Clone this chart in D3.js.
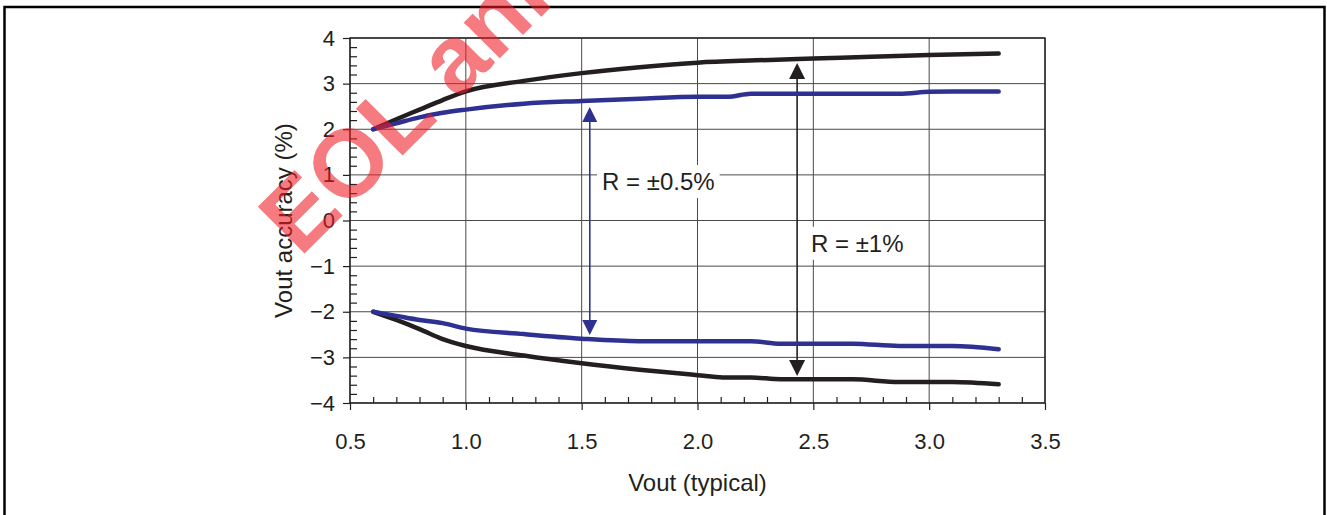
<!DOCTYPE html>
<html>
<head>
<meta charset="utf-8">
<script src="https://cdn.jsdelivr.net/npm/d3@7"></script>
<style>
body { margin: 0; background: #fff; }
svg { display: block; }
text { font-family: "Liberation Sans", Arial, sans-serif; fill: #231f20; }
</style>
</head>
<body>
<div id="chart"></div>
<script>
// data
var xTicks = [0.5, 1.0, 1.5, 2.0, 2.5, 3.0, 3.5];
var yTicks = [-4, -3, -2, -1, 0, 1, 2, 3, 4];

var blackUpperX = [0.6, 0.7, 0.8, 0.9, 1.0, 1.25, 1.5, 1.75, 2.0, 2.25, 2.5, 2.75, 3.0, 3.3];
var blackUpperY = [2.0, 2.22, 2.43, 2.64, 2.83, 3.06, 3.23, 3.36, 3.46, 3.51, 3.55, 3.59, 3.63, 3.66];

var blueUpperX = [0.6, 0.7, 0.8, 0.9, 1.0, 1.25, 1.5, 1.75, 2.0, 2.13, 2.23, 2.87, 3.0, 3.1, 3.3];
var blueUpperY = [2.0, 2.13, 2.26, 2.36, 2.43, 2.56, 2.62, 2.67, 2.71, 2.71, 2.78, 2.78, 2.82, 2.83, 2.83];

var blueLowerX = [0.6, 0.7, 0.8, 0.9, 1.0, 1.25, 1.5, 1.75, 2.23, 2.36, 2.67, 2.87, 3.1, 3.3];
var blueLowerY = [-2.0, -2.09, -2.18, -2.25, -2.37, -2.49, -2.59, -2.645, -2.645, -2.7, -2.7, -2.75, -2.75, -2.82];

var blackLowerX = [0.6, 0.7, 0.8, 0.9, 1.0, 1.25, 1.5, 1.75, 2.0, 2.11, 2.23, 2.36, 2.67, 2.87, 3.1, 3.3];
var blackLowerY = [-2.0, -2.18, -2.38, -2.6, -2.75, -2.96, -3.13, -3.27, -3.39, -3.44, -3.44, -3.48, -3.48, -3.54, -3.54, -3.59];

// range arrows: x, top tip, bottom tip
var arrowX = [1.535, 2.43];
var arrowTop = [2.49, 3.45];
var arrowBottom = [-2.51, -3.41];
var labelText = ['R = \u00b10.5%', 'R = \u00b11%'];
var labelX = [1.588, 2.49];
var labelY = [0.667, -0.686];

var svgWidth = 1327,
    svgHeight = 515;

var plot = { left: 350, top: 38, right: 1045, bottom: 403 };

var svg = d3.select('#chart')
    .append('svg')
    .attr('width', svgWidth)
    .attr('height', svgHeight);

var x = d3.scaleLinear().domain([0.5, 3.5]).range([plot.left, plot.right]);
var y = d3.scaleLinear().domain([-4, 4]).range([plot.bottom, plot.top]);

var blue = '#2e3192',
    black = '#231f20';

// outer frame
svg.append('path')
    .attr('d', `M4.5,${svgHeight + 2}V7H1324.5V${svgHeight + 2}`)
    .attr('fill', 'none')
    .attr('stroke', '#000')
    .attr('stroke-width', 2.5);

// grid
var grid = svg.append('g').attr('stroke', '#4a4a4a').attr('stroke-width', 1);
grid.selectAll('.hg')
    .data(yTicks)
    .enter()
    .append('line')
    .attr('x1', plot.left).attr('x2', plot.right)
    .attr('y1', d => y(d)).attr('y2', d => y(d));
grid.selectAll('.vg')
    .data(xTicks)
    .enter()
    .append('line')
    .attr('y1', plot.top).attr('y2', plot.bottom)
    .attr('x1', d => x(d)).attr('x2', d => x(d));

// label boxes + text
labelText.forEach((t, i) => {
    var g = svg.append('g');
    var box = g.append('rect').attr('fill', '#fff');
    var txt = g.append('text')
        .attr('x', x(labelX[i]))
        .attr('y', y(labelY[i]))
        .style('font-size', '24px')
        .text(t);
    var bb = txt.node().getBBox();
    box.attr('x', bb.x - 5).attr('y', bb.y - 3)
        .attr('width', bb.width + 10).attr('height', bb.height + 6);
});

// range arrows
var arrowColor = [blue, black],
    headW = [15, 16],
    headH = [15, 16];
arrowX.forEach((ax, i) => {
    var cx = x(ax), yt = y(arrowTop[i]), yb = y(arrowBottom[i]);
    var w = headW[i] / 2, h = headH[i];
    svg.append('line')
        .attr('x1', cx).attr('x2', cx)
        .attr('y1', yt + h - 1).attr('y2', yb - h + 1)
        .attr('stroke', arrowColor[i])
        .attr('stroke-width', 1.6);
    svg.append('path')
        .attr('d', `M${cx},${yt}L${cx - w},${yt + h}L${cx + w},${yt + h}Z`)
        .attr('fill', arrowColor[i]);
    svg.append('path')
        .attr('d', `M${cx},${yb}L${cx - w},${yb - h}L${cx + w},${yb - h}Z`)
        .attr('fill', arrowColor[i]);
});

// curves
var line = d3.line()
    .x(d => x(d[0]))
    .y(d => y(d[1]))
    .curve(d3.curveMonotoneX);

var series = [
    { xs: blackUpperX, ys: blackUpperY, color: black },
    { xs: blackLowerX, ys: blackLowerY, color: black },
    { xs: blueUpperX, ys: blueUpperY, color: blue },
    { xs: blueLowerX, ys: blueLowerY, color: blue }
];

svg.append('g').selectAll('path')
    .data(series)
    .enter()
    .append('path')
    .attr('d', s => line(s.xs.map((v, i) => [v, s.ys[i]])))
    .attr('fill', 'none')
    .attr('stroke', s => s.color)
    .attr('stroke-width', 4.5)
    .attr('stroke-linecap', 'round')
    .attr('stroke-linejoin', 'round');

// plot border
svg.append('rect')
    .attr('x', plot.left).attr('y', plot.top)
    .attr('width', plot.right - plot.left)
    .attr('height', plot.bottom - plot.top)
    .attr('fill', 'none')
    .attr('stroke', black)
    .attr('stroke-width', 1.4);

// y axis: major ticks outside, minor every 0.2 inside
var yMinor = d3.range(-4, 4.001, 0.2).filter(v => Math.abs(v - Math.round(v)) > 0.01);

var yAxis = svg.append('g')
    .attr('transform', `translate(${plot.left},0)`)
    .call(d3.axisLeft(y).tickValues(yTicks).tickSize(7).tickPadding(8).tickFormat(d3.format('d')));
svg.append('g')
    .attr('transform', `translate(${plot.left},0)`)
    .call(d3.axisRight(y).tickValues(yMinor).tickSize(7).tickFormat(''));

// x axis: major ticks below, minor every 0.1 above
var xMinor = d3.range(0.5, 3.501, 0.1).filter(v => Math.abs(v * 2 - Math.round(v * 2)) > 0.01);

var xAxis = svg.append('g')
    .attr('transform', `translate(0,${plot.bottom})`)
    .call(d3.axisBottom(x).tickValues(xTicks).tickSize(7).tickFormat(d3.format('.1f')));
svg.append('g')
    .attr('transform', `translate(0,${plot.bottom})`)
    .call(d3.axisTop(x).tickValues(xMinor).tickSize(6).tickFormat(''));

svg.selectAll('.domain').remove();
svg.selectAll('.tick line').attr('stroke', black).attr('stroke-width', 1.2);
svg.selectAll('.tick text')
    .attr('fill', black)
    .style('font-family', '"Liberation Sans", Arial, sans-serif')
    .style('font-size', '22px');
xAxis.selectAll('.tick text').attr('dy', null).attr('y', 46);

// axis titles
svg.append('text')
    .attr('x', (plot.left + plot.right) / 2)
    .attr('y', 491)
    .attr('text-anchor', 'middle')
    .style('font-size', '24px')
    .text('Vout (typical)');

svg.append('text')
    .attr('transform', `translate(292,${(plot.top + plot.bottom) / 2})rotate(-90)`)
    .attr('text-anchor', 'middle')
    .style('font-size', '24px')
    .text('Vout accuracy (%)');

// EOL watermark on top
svg.append('text')
    .attr('transform', 'translate(300,258)rotate(-45)')
    .style('font-size', '96px')
    .style('font-weight', 'bold')
    .style('fill', 'rgb(237,28,36)')
    .style('fill-opacity', 0.58)
    .text('EOL announced');
</script>
</body>
</html>
